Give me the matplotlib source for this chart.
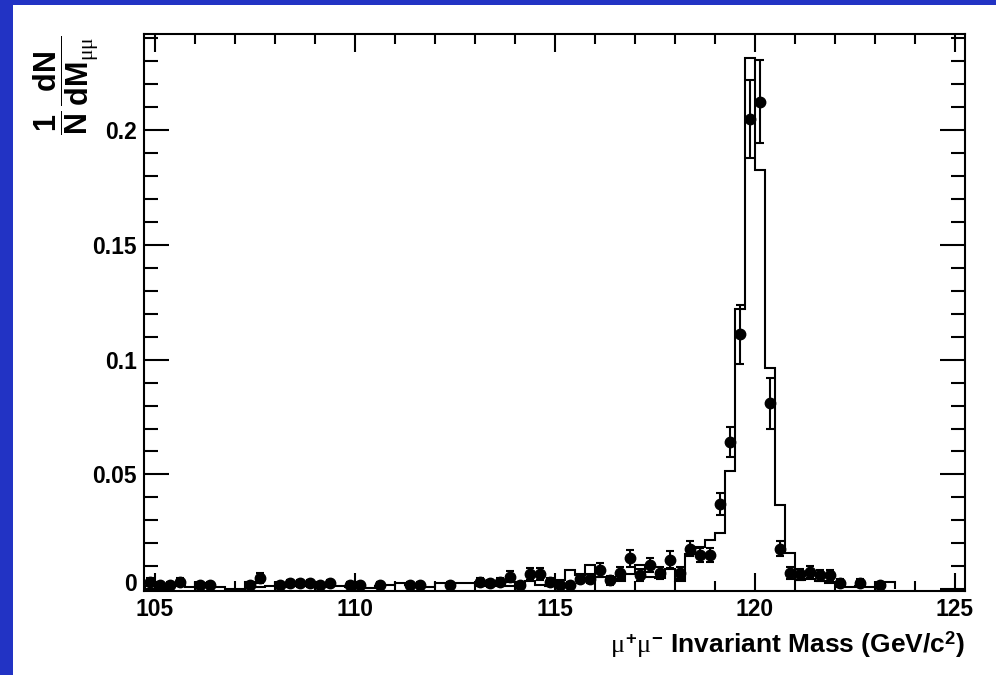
import numpy as np
import matplotlib
matplotlib.use("Agg")
import matplotlib.pyplot as plt
from matplotlib.patches import Rectangle
from matplotlib.transforms import ScaledTranslation

# MC histogram: 0.25 GeV bins starting at 104.75
bin_lo = 104.75
bin_w = 0.25
mc_vals = [
    0.0015, 0.0012, 0.0015, 0.0018, 0.0010, 0.0025, 0.0012, 0.0010,  # 104.75-106.5
    0.0000, 0.0000, 0.0030, 0.0010, 0.0012, 0.0025, 0.0015, 0.0018,  # 106.75-108.5
    0.0015, 0.0018, 0.0015, 0.0012, 0.0010, 0.0015, 0.0005, 0.0015,  # 108.75-110.5
    0.0020, 0.0025, 0.0020, 0.0018, 0.0010, 0.0025, 0.0025, 0.0025,  # 110.75-112.5
    0.0025, 0.0020, 0.0015, 0.0020, 0.0015, 0.0025, 0.0035, 0.0020,  # 112.75-114.5
    0.0015, 0.0040, 0.0085, 0.0060, 0.0105, 0.0055, 0.0055, 0.0035,  # 114.75-116.5
    0.0065, 0.0105, 0.0055, 0.0050, 0.0090, 0.0035, 0.0155, 0.0185,  # 116.75-118.5
    0.0215, 0.0243, 0.0516, 0.1220, 0.2315, 0.1827, 0.0965, 0.0366,  # 118.75-120.5
    0.0156, 0.0040, 0.0045, 0.0035, 0.0025, 0.0025, 0.0010, 0.0015,  # 120.75-122.5
    0.0010, 0.0008, 0.0030,                                          # 122.75-123.25
]

# data points (bin centre, normalised value, error)
data_mass = [104.875, 105.125, 105.375, 105.625, 106.125, 106.375, 107.375, 107.625,
             108.125, 108.375, 108.625, 108.875, 109.125, 109.375, 109.875, 110.125,
             110.625, 111.375, 111.625, 112.375, 113.125, 113.375, 113.625, 113.875,
             114.125, 114.375, 114.625, 114.875, 115.125, 115.375, 115.625, 115.875,
             116.125, 116.375, 116.625, 116.875, 117.125, 117.375, 117.625, 117.875,
             118.125, 118.375, 118.625, 118.875, 119.125, 119.375, 119.625, 119.875,
             120.125, 120.375, 120.625, 120.875, 121.125, 121.375, 121.625, 121.875,
             122.125, 122.625, 123.125]
data_vals = [0.0032, 0.0017, 0.0017, 0.0032, 0.0017, 0.0017, 0.0017, 0.0048,
             0.0017, 0.0025, 0.0025, 0.0025, 0.0017, 0.0025, 0.0017, 0.0017,
             0.0017, 0.0017, 0.0017, 0.0017, 0.0030, 0.0025, 0.0032, 0.0054,
             0.0017, 0.0068, 0.0068, 0.0030, 0.0017, 0.0017, 0.0046, 0.0046,
             0.0083, 0.0039, 0.0071, 0.0134, 0.0061, 0.0105, 0.0071, 0.0129,
             0.0071, 0.0177, 0.0148, 0.0148, 0.0369, 0.0642, 0.1110, 0.2047,
             0.2124, 0.0810, 0.0177, 0.0071, 0.0065, 0.0075, 0.0060, 0.0060,
             0.0028, 0.0028, 0.0017]
data_errs = [0.0018, 0.0013, 0.0013, 0.0018, 0.0013, 0.0013, 0.0013, 0.0022,
             0.0013, 0.0016, 0.0016, 0.0016, 0.0013, 0.0016, 0.0013, 0.0013,
             0.0013, 0.0013, 0.0013, 0.0013, 0.0017, 0.0016, 0.0018, 0.0023,
             0.0013, 0.0026, 0.0026, 0.0017, 0.0013, 0.0013, 0.0021, 0.0021,
             0.0029, 0.0020, 0.0027, 0.0036, 0.0025, 0.0032, 0.0027, 0.0036,
             0.0027, 0.0032, 0.0030, 0.0030, 0.0048, 0.0065, 0.0130, 0.0170,
             0.0180, 0.0110, 0.0032, 0.0027, 0.0025, 0.0027, 0.0024, 0.0024,
             0.0017, 0.0017, 0.0013]

plt.rcParams['font.family'] = ['Liberation Sans', 'DejaVu Sans']
plt.rcParams['mathtext.fontset'] = 'custom'
plt.rcParams['mathtext.rm'] = 'Liberation Sans:bold'
plt.rcParams['mathtext.bf'] = 'Liberation Sans:bold'
plt.rcParams['mathtext.it'] = 'Liberation Serif'

fig = plt.figure(figsize=(9.96, 6.75), dpi=100)
fig.patch.set_facecolor('#2233c4')
fig.patches.append(Rectangle((13 / 996, 0), 1, 670 / 675, transform=fig.transFigure,
                             facecolor='white', edgecolor='none', zorder=-5))

ax = fig.add_axes([144 / 996, 84 / 675, 821 / 996, 557 / 675])
ax.set_facecolor('white')

edges = bin_lo + bin_w * np.arange(len(mc_vals) + 1)
ax.stairs(mc_vals, edges, color='black', lw=1.5, baseline=0)
ax.errorbar(data_mass, data_vals, yerr=data_errs, fmt='o', color='black',
            ms=7.5, capsize=3, elinewidth=1.5, capthick=1.5)

ax.set_xlim(104.73, 125.25)
ax.set_ylim(-0.0008, 0.2419)
ax.set_xticks([105, 110, 115, 120, 125])
ax.set_xticks(np.arange(105, 126, 1), minor=True)
ax.set_yticks([0, 0.05, 0.1, 0.15, 0.2])
ax.set_yticklabels(['0', '0.05', '0.1', '0.15', '0.2'])
ax.set_yticks(np.arange(0, 0.241, 0.01), minor=True)

ax.tick_params(which='both', direction='in', top=True, right=True, width=1.5)
ax.tick_params(axis='y', which='major', length=18, pad=5, labelsize=16.5)
ax.tick_params(axis='y', which='minor', length=10)
ax.tick_params(axis='x', which='major', length=13, pad=5, labelsize=16.5)
ax.tick_params(axis='x', which='minor', length=7)
for lab in ax.get_xticklabels() + ax.get_yticklabels():
    lab.set_fontweight('bold')
for sp in ax.spines.values():
    sp.set_linewidth(1.5)

# ROOT lifts the "0" label a little
zero_lab = ax.get_yticklabels()[0]
zero_lab.set_transform(zero_lab.get_transform() + ScaledTranslation(0, 5 / 72, fig.dpi_scale_trans))

fig.text(965 / 996, 1 - 645 / 675, r'$\mu^{+}\mu^{-}$ Invariant Mass (GeV/c$^{2}$)',
         ha='right', va='center', fontsize=19, fontweight='bold')
fig.text(66 / 996, 1 - 85 / 675,
         r'$\dfrac{\mathrm{1}}{\mathrm{N}}\,\dfrac{\mathrm{dN}}{\mathrm{dM}_{\mu\mu}}$',
         rotation=90, ha='center', va='center', fontsize=22)

fig.savefig('out.png', dpi=100, facecolor=fig.get_facecolor())
